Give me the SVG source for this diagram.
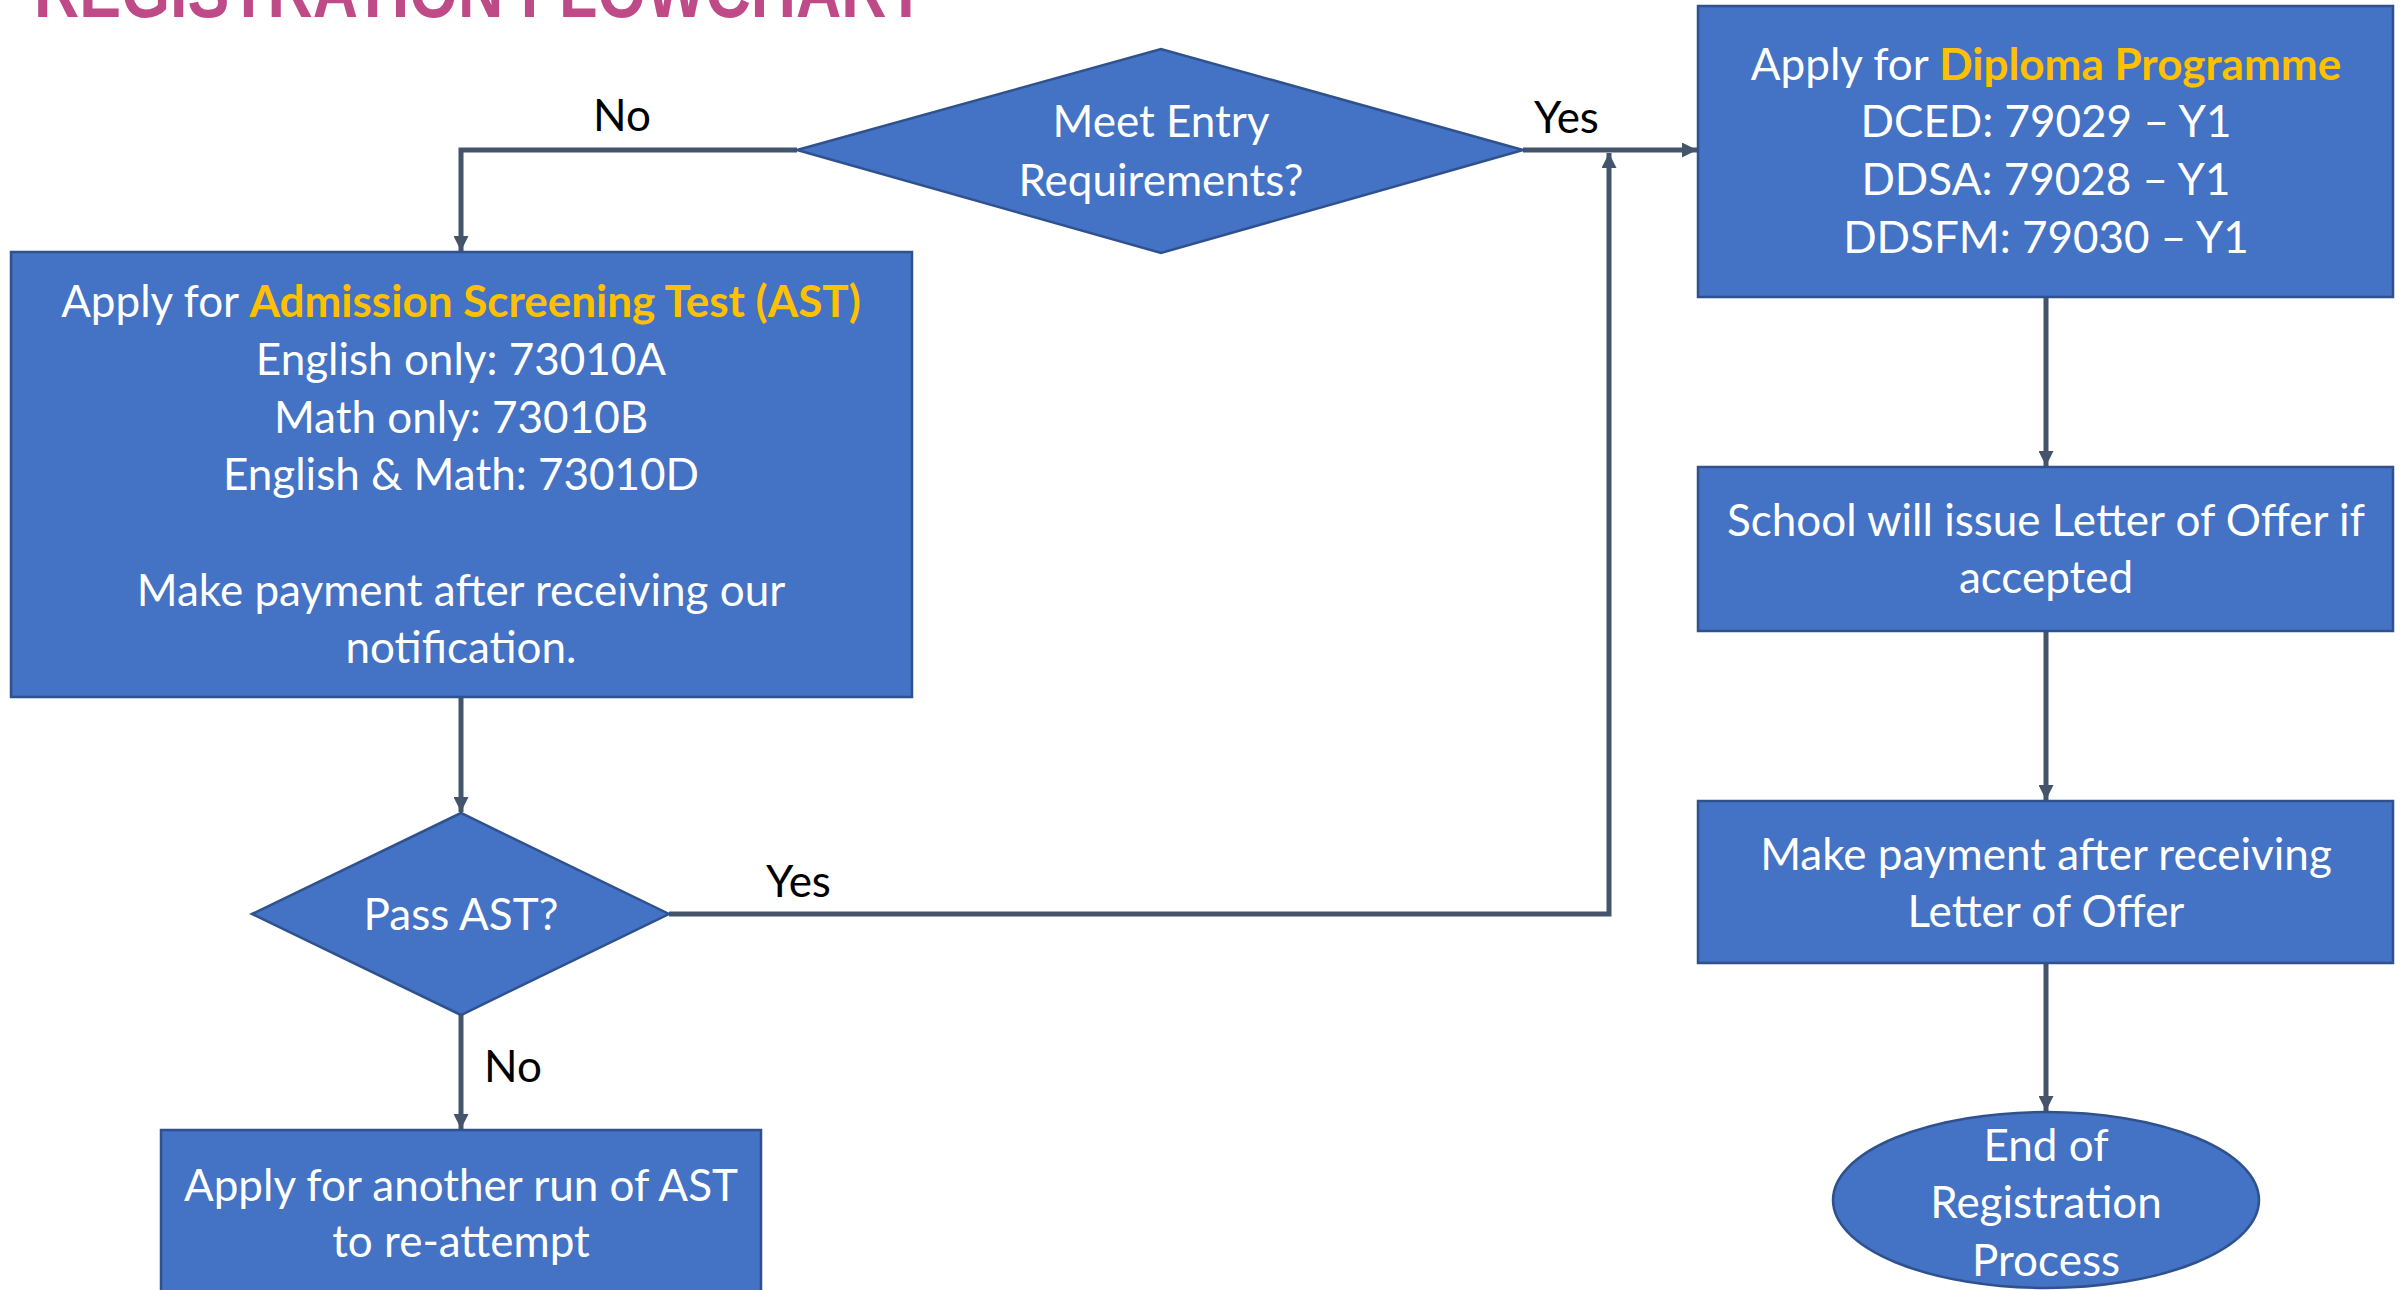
<svg xmlns="http://www.w3.org/2000/svg" width="2407" height="1290" viewBox="0 0 2407 1290">
<style>
.node{fill:#4472C4;stroke:#2F528F;stroke-width:2.5}
.t{font-family:Lato,"Liberation Sans",sans-serif;font-size:44px;fill:#FFFFFF;text-anchor:middle}
.hl{font-weight:bold;fill:#FFC000}
.lbl{font-family:Lato,"Liberation Sans",sans-serif;font-size:44px;fill:#000000}
.conn{fill:none;stroke:#44546A;stroke-width:5}
.title{font-family:"Liberation Sans",Arial,sans-serif;font-weight:bold;font-size:76px;fill:#BE4B87}
</style>
<defs>
<marker id="arr" viewBox="0 0 10 10" refX="10" refY="5" markerUnits="userSpaceOnUse" markerWidth="16" markerHeight="15" orient="auto">
<path d="M0,0 L10,5 L0,10 Z" fill="#44546A"/>
</marker>
</defs>
<rect width="2407" height="1290" fill="#FFFFFF"/>
<text class="title" x="34" y="17" textLength="891" lengthAdjust="spacingAndGlyphs">REGISTRATION FLOWCHART</text>

<g id="connectors">
<polyline class="conn" points="797,150 461,150 461,251" marker-end="url(#arr)"/>
<line class="conn" x1="1523" y1="150" x2="1697" y2="150" marker-end="url(#arr)"/>
<line class="conn" x1="461" y1="697" x2="461" y2="812" marker-end="url(#arr)"/>
<polyline class="conn" points="669,914 1609,914 1609,153" marker-end="url(#arr)"/>
<line class="conn" x1="461" y1="1015" x2="461" y2="1129" marker-end="url(#arr)"/>
<line class="conn" x1="2046" y1="297" x2="2046" y2="466" marker-end="url(#arr)"/>
<line class="conn" x1="2046" y1="631" x2="2046" y2="800" marker-end="url(#arr)"/>
<line class="conn" x1="2046" y1="963" x2="2046" y2="1111" marker-end="url(#arr)"/>
<text class="lbl" x="593" y="131">No</text>
<text class="lbl" x="1534" y="133">Yes</text>
<text class="lbl" x="766" y="897">Yes</text>
<text class="lbl" x="484" y="1082">No</text>
</g>

<g id="meet-entry">
<polygon class="node" points="797,150 1161,49 1523,150 1161,253"/>
<text class="t" x="1161" y="137">Meet Entry</text>
<text class="t" x="1161" y="196">Requirements?</text>
</g>

<g id="apply-ast">
<rect class="node" x="11" y="252" width="901" height="445"/>
<text class="t" x="461" y="317">Apply for <tspan class="hl">Admission Screening Test (AST)</tspan></text>
<text class="t" x="461" y="375">English only: 73010A</text>
<text class="t" x="461" y="433">Math only: 73010B</text>
<text class="t" x="461" y="490">English &amp; Math: 73010D</text>
<text class="t" x="461" y="606">Make payment after receiving our</text>
<text class="t" x="461" y="663">notification.</text>
</g>

<g id="pass-ast">
<polygon class="node" points="252,914 461,813 669,914 461,1015"/>
<text class="t" x="461" y="930">Pass AST?</text>
</g>

<g id="reattempt">
<rect class="node" x="161" y="1130" width="600" height="175"/>
<text class="t" x="461" y="1201">Apply for another run of AST</text>
<text class="t" x="461" y="1257">to re-attempt</text>
</g>

<g id="apply-diploma">
<rect class="node" x="1698" y="6" width="695" height="291"/>
<text class="t" x="2046" y="80">Apply for <tspan class="hl">Diploma Programme</tspan></text>
<text class="t" x="2046" y="137">DCED: 79029 – Y1</text>
<text class="t" x="2046" y="195">DDSA: 79028 – Y1</text>
<text class="t" x="2046" y="253">DDSFM: 79030 – Y1</text>
</g>

<g id="letter-offer">
<rect class="node" x="1698" y="467" width="695" height="164"/>
<text class="t" x="2046" y="536">School will issue Letter of Offer if</text>
<text class="t" x="2046" y="593">accepted</text>
</g>

<g id="make-payment">
<rect class="node" x="1698" y="801" width="695" height="162"/>
<text class="t" x="2046" y="870">Make payment after receiving</text>
<text class="t" x="2046" y="927">Letter of Offer</text>
</g>

<g id="end">
<ellipse class="node" cx="2046" cy="1200" rx="213" ry="88"/>
<text class="t" x="2046" y="1161">End of</text>
<text class="t" x="2046" y="1218">Registration</text>
<text class="t" x="2046" y="1276">Process</text>
</g>
</svg>
